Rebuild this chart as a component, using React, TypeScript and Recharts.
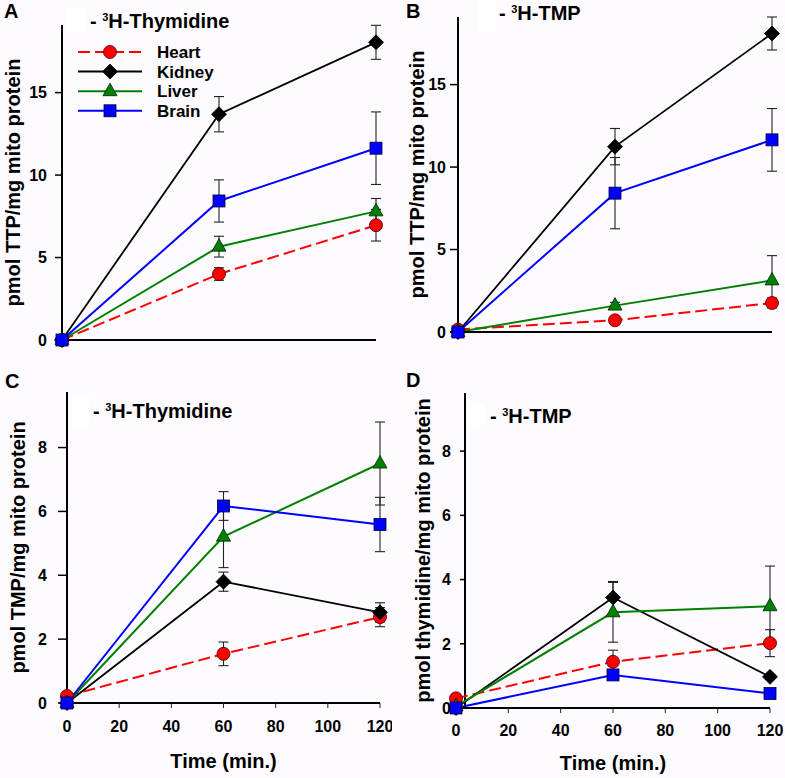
import React from 'react';
import { LineChart, Line, XAxis, YAxis, ErrorBar, Legend, ReferenceLine } from 'recharts';

const FONT = '"Liberation Sans", Arial, Helvetica, sans-serif';
const PAGE_BG = '#fdfbff';

// sampling times (min.)
const times = [0, 60, 120];
const timeTicks = [0, 20, 40, 60, 80, 100, 120];
const ttpTicks = [0, 5, 10, 15];
const smallTicks = [0, 2, 4, 6, 8];

// A: TTP from 3H-thymidine
const aHeart = [0, 4.0, 6.96];
const aHeartErr = [0, 0.38, 0.96];
const aKidney = [0, 13.69, 18.05];
const aKidneyErr = [0, 1.07, 1.03];
const aLiver = [0, 5.66, 7.8];
const aLiverErr = [0, 0.63, 0.78];
const aBrain = [0, 8.43, 11.63];
const aBrainErr = [0, 1.28, 2.2];

// B: TTP from 3H-TMP
const bHeart = [0.15, 0.71, 1.76];
const bHeartErr = [0, 0.1, 0.3];
const bKidney = [0, 11.24, 18.1];
const bKidneyErr = [0, 1.1, 1.0];
const bLiver = [0, 1.6, 3.13];
const bLiverErr = [0, 0.2, 1.5];
const bBrain = [0, 8.42, 11.65];
const bBrainErr = [0, 2.16, 1.9];

// C: TMP from 3H-thymidine
const cHeart = [0.22, 1.54, 2.69];
const cHeartErr = [0, 0.37, 0.3];
const cKidney = [0, 3.8, 2.84];
const cKidneyErr = [0, 0.3, 0.3];
const cLiver = [0, 5.21, 7.5];
const cLiverErr = [0, 0.97, 1.3];
const cBrain = [0, 6.17, 5.59];
const cBrainErr = [0, 0.45, 0.85];

// D: thymidine from 3H-TMP
const dHeart = [0.3, 1.44, 2.02];
const dHeartErr = [0, 0.36, 0.42];
const dKidney = [0, 3.44, 0.97];
const dKidneyErr = [0, 0.5, 0.08];
const dLiver = [0.05, 2.98, 3.17];
const dLiverErr = [0, 0.93, 1.25];
const dBrain = [0, 1.03, 0.45];
const dBrainErr = [0, 0.05, 0.05];

type Shape = 'circle' | 'diamond' | 'triangle' | 'square';

const tissues: { key: string; name: string; color: string; shape: Shape; dash?: string; width: number }[] = [
  { key: 'heart', name: 'Heart', color: '#ff0000', shape: 'circle', dash: '12 5', width: 2 },
  { key: 'kidney', name: 'Kidney', color: '#000000', shape: 'diamond', width: 1.8 },
  { key: 'liver', name: 'Liver', color: '#008000', shape: 'triangle', width: 2 },
  { key: 'brain', name: 'Brain', color: '#0000ff', shape: 'square', width: 2 },
];

function buildRows(values: number[][], errs: number[][]) {
  return times.map((t, i) => {
    const row: Record<string, number> = { t };
    tissues.forEach((s, j) => {
      row[s.key] = values[j][i];
      row[s.key + 'Err'] = errs[j][i];
    });
    return row;
  });
}

const rowsA = buildRows([aHeart, aKidney, aLiver, aBrain], [aHeartErr, aKidneyErr, aLiverErr, aBrainErr]);
const rowsB = buildRows([bHeart, bKidney, bLiver, bBrain], [bHeartErr, bKidneyErr, bLiverErr, bBrainErr]);
const rowsC = buildRows([cHeart, cKidney, cLiver, cBrain], [cHeartErr, cKidneyErr, cLiverErr, cBrainErr]);
const rowsD = buildRows([dHeart, dKidney, dLiver, dBrain], [dHeartErr, dKidneyErr, dLiverErr, dBrainErr]);

const Marker = ({ shape, cx, cy, color }: { shape: Shape; cx: number; cy: number; color: string }) => {
  if (cx == null || cy == null) return null;
  switch (shape) {
    case 'circle':
      return <circle cx={cx} cy={cy} r={6.5} fill={color} stroke="#400000" strokeWidth={0.8} />;
    case 'diamond':
      return (
        <path
          d={`M${cx},${cy - 7.5}L${cx + 7.5},${cy}L${cx},${cy + 7.5}L${cx - 7.5},${cy}Z`}
          fill={color}
          stroke="#000"
          strokeWidth={0.8}
        />
      );
    case 'triangle':
      return (
        <path
          d={`M${cx},${cy - 8}L${cx + 7},${cy + 4.5}L${cx - 7},${cy + 4.5}Z`}
          fill={color}
          stroke="#002000"
          strokeWidth={0.8}
        />
      );
    default:
      return <rect x={cx - 6} y={cy - 6} width={12} height={12} fill={color} stroke="#000030" strokeWidth={0.8} />;
  }
};

const LegendBox = () => (
  <svg width={160} height={84} style={{ display: 'block', overflow: 'visible' }}>
    {tissues.map((s, i) => {
      const y = 12 + i * 19.6;
      return (
        <g key={s.key}>
          <line x1={8} x2={72} y1={y} y2={y} stroke={s.color} strokeWidth={2} strokeDasharray={s.dash} />
          <Marker shape={s.shape} cx={40} cy={y} color={s.color} />
          <text x={87} y={y + 6} fontSize={17} fontWeight={700} fontFamily={FONT} fill="#000">
            {s.name}
          </text>
        </g>
      );
    })}
  </svg>
);

// y-axis tick for panel D, whose axis line sits a little right of t = 0
const OffsetTick = (props: any) => {
  const { x, y, payload } = props;
  return (
    <g>
      <line x1={x + 4} x2={x + 9} y1={y} y2={y} stroke="#000" strokeWidth={1.5} />
      <text x={x - 5} y={y} dy="0.36em" textAnchor="end" fontSize={16} fontWeight={700} fontFamily={FONT} fill="#000">
        {payload.value}
      </text>
    </g>
  );
};

interface PanelProps {
  left: number;
  top: number;
  width: number;
  height: number;
  marginTop: number;
  marginRight: number;
  yAxisWidth: number;
  xAxisHeight: number;
  yMax: number;
  yTicks: number[];
  yLabel: string;
  yLabelX: number;
  yTickSize: number;
  yTickMargin: number;
  rows: Record<string, number>[];
  showTime?: boolean;
  xTickMargin?: number;
  timeLabelOffset?: number;
  showLegend?: boolean;
  axisAt?: number;
}

const tickStyle = { fontSize: 16, fontWeight: 700, fill: '#000', fontFamily: FONT };

const Panel = (p: PanelProps) => (
  <div style={{ position: 'absolute', left: p.left, top: p.top }}>
    <LineChart
      width={p.width}
      height={p.height}
      data={p.rows}
      margin={{ top: p.marginTop, right: p.marginRight, bottom: 0, left: 0 }}
    >
      <XAxis
        type="number"
        dataKey="t"
        domain={[0, 120]}
        ticks={timeTicks}
        height={p.xAxisHeight}
        axisLine={{ stroke: '#000', strokeWidth: 2 }}
        tickLine={{ stroke: '#222', strokeWidth: 1 }}
        tickSize={5}
        tickMargin={p.xTickMargin ?? 12}
        tick={p.showTime ? tickStyle : false}
        label={
          p.showTime
            ? {
                value: 'Time (min.)',
                position: 'insideBottom',
                offset: p.timeLabelOffset ?? 8,
                style: { fontSize: 20, fontWeight: 700, fill: '#000', fontFamily: FONT },
              }
            : undefined
        }
      />
      <YAxis
        type="number"
        domain={[0, p.yMax]}
        ticks={p.yTicks}
        width={p.yAxisWidth}
        axisLine={p.axisAt == null ? { stroke: '#000', strokeWidth: 2 } : false}
        tickLine={p.axisAt == null ? { stroke: '#000', strokeWidth: 1.5 } : false}
        tickSize={p.axisAt == null ? p.yTickSize : 0}
        tickMargin={p.axisAt == null ? p.yTickMargin : 0}
        tick={p.axisAt == null ? tickStyle : <OffsetTick />}
        label={{
          value: p.yLabel,
          angle: -90,
          position: 'insideLeft',
          offset: p.yLabelX,
          style: { textAnchor: 'middle', fontSize: 20, fontWeight: 700, fill: '#000', fontFamily: FONT },
        }}
      />
      {p.axisAt != null && <ReferenceLine x={p.axisAt} stroke="#000" strokeWidth={2} />}
      {p.showLegend && (
        <Legend
          layout="vertical"
          align="center"
          verticalAlign="middle"
          wrapperStyle={{ left: 70, top: 40, width: 160, height: 84 }}
          content={() => <LegendBox />}
        />
      )}
      {tissues.map((s) => (
        <Line
          key={s.key}
          type="linear"
          dataKey={s.key}
          name={s.name}
          stroke={s.color}
          strokeWidth={s.width}
          strokeDasharray={s.dash}
          isAnimationActive={false}
          activeDot={false}
          dot={(d: any) => <Marker key={`${s.key}-${d.index}`} shape={s.shape} cx={d.cx} cy={d.cy} color={s.color} />}
        >
          <ErrorBar dataKey={s.key + 'Err'} direction="y" width={5} stroke="#222" strokeWidth={1.1} isAnimationActive={false} />
        </Line>
      ))}
    </LineChart>
  </div>
);

const titles = [
  { letter: 'A', lx: 4, ly: 18.3, box: [65, 8, 21, 24], tx: 90, ty: 27.7, text: 'H-Thymidine' },
  { letter: 'B', lx: 406, ly: 18.3, box: [477, 0, 19, 32], tx: 499, ty: 20, text: 'H-TMP' },
  { letter: 'C', lx: 5, ly: 388.3, box: [72, 397, 18, 28], tx: 93, ty: 418.3, text: 'H-Thymidine' },
  { letter: 'D', lx: 406, ly: 386.7, box: [467, 403, 18, 25], tx: 490, ty: 423.3, text: 'H-TMP' },
];

export default function App() {
  return (
    <div
      style={{
        position: 'absolute',
        left: 0,
        top: 0,
        width: 785,
        height: 778,
        background: PAGE_BG,
        fontFamily: FONT,
        overflow: 'hidden',
      }}
    >
      <Panel
        left={0}
        top={0}
        width={392}
        height={360}
        marginTop={25}
        marginRight={16}
        yAxisWidth={62}
        xAxisHeight={20}
        yMax={19.1}
        yTicks={ttpTicks}
        yLabel="pmol TTP/mg mito protein"
        yLabelX={12.5}
        yTickSize={7}
        yTickMargin={8}
        rows={rowsA}
        showLegend
      />
      <Panel
        left={392}
        top={0}
        width={393}
        height={352}
        marginTop={17}
        marginRight={13}
        yAxisWidth={66}
        xAxisHeight={20}
        yMax={19.07}
        yTicks={ttpTicks}
        yLabel="pmol TTP/mg mito protein"
        yLabelX={25}
        yTickSize={8}
        yTickMargin={4}
        rows={rowsB}
      />
      <Panel
        left={0}
        top={360}
        width={392}
        height={418}
        marginTop={32}
        marginRight={12}
        yAxisWidth={67}
        xAxisHeight={75}
        yMax={9.74}
        yTicks={smallTicks}
        yLabel="pmol TMP/mg mito protein"
        yLabelX={18}
        yTickSize={9}
        yTickMargin={11}
        rows={rowsC}
        showTime
        xTickMargin={13}
        timeLabelOffset={10}
      />
      <Panel
        left={392}
        top={360}
        width={393}
        height={418}
        marginTop={33}
        marginRight={15}
        yAxisWidth={64}
        xAxisHeight={70}
        yMax={9.81}
        yTicks={smallTicks}
        yLabel="pmol thymidine/mg mito protein"
        yLabelX={31}
        yTickSize={0}
        yTickMargin={0}
        rows={rowsD}
        showTime
        xTickMargin={12}
        timeLabelOffset={8}
        axisAt={3.44}
      />
      <svg
        width={785}
        height={778}
        style={{ position: 'absolute', left: 0, top: 0, pointerEvents: 'none' }}
      >
        {titles.map((t) => (
          <g key={t.letter} fontFamily={FONT} fontWeight={700} fill="#000">
            <text x={t.lx} y={t.ly} fontSize={20}>
              {t.letter}
            </text>
            <rect x={t.box[0]} y={t.box[1]} width={t.box[2]} height={t.box[3]} fill="#ffffff" />
            <text x={t.tx} y={t.ty} fontSize={20}>
              {'- '}
              <tspan fontSize={11} dy={-7}>
                3
              </tspan>
              <tspan dy={7}>{t.text}</tspan>
            </text>
          </g>
        ))}
      </svg>
    </div>
  );
}
